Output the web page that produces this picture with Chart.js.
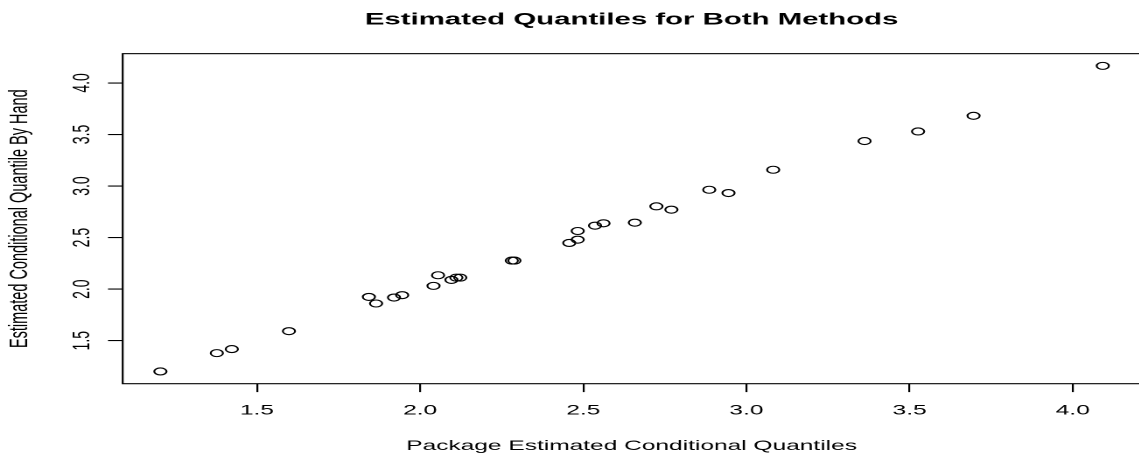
<!DOCTYPE html>
<html><head><meta charset="utf-8">
<script src="https://cdn.jsdelivr.net/npm/chart.js@4.4.1/dist/chart.umd.min.js"></script>
<style>
html,body{margin:0;padding:0;background:#fff;overflow:hidden;width:1139px;height:457px;}
#wrap{position:absolute;left:0;top:0;width:680px;height:457px;transform:scaleX(1.75);transform-origin:0 0;}
</style></head><body>
<div id="wrap"><canvas id="c"></canvas></div>
<script>
const packageQuantiles = [1.204, 1.377, 1.423, 1.598, 1.843, 1.865, 1.920, 1.945, 2.041, 2.055, 2.096, 2.111, 2.123, 2.281, 2.289, 2.457, 2.483, 2.483, 2.536, 2.562, 2.658, 2.724, 2.770, 2.886, 2.945, 3.082, 3.362, 3.526, 3.696, 4.092];
const handQuantiles    = [1.202, 1.380, 1.419, 1.593, 1.925, 1.861, 1.919, 1.942, 2.032, 2.135, 2.090, 2.112, 2.112, 2.277, 2.277, 2.448, 2.480, 2.564, 2.616, 2.639, 2.645, 2.803, 2.771, 2.964, 2.932, 3.158, 3.436, 3.529, 3.681, 4.165];
const xTickValues = [1.5, 2.0, 2.5, 3.0, 3.5, 4.0];
const yTickValues = [1.5, 2.0, 2.5, 3.0, 3.5, 4.0];
const chartTitle = 'Estimated Quantiles for Both Methods';
const xLabel = 'Package Estimated Conditional Quantiles';
const yLabel = 'Estimated Conditional Quantile By Hand';

// R-style axis range: data range extended by 4% on each side
function rRange(vals){ const lo=Math.min(...vals), hi=Math.max(...vals), d=(hi-lo)*0.04; return [lo-d, hi+d]; }
const [xMin, xMax] = rRange(packageQuantiles);
const [yMin, yMax] = rRange(handQuantiles);

const FONT = '"Liberation Sans", Arial, Helvetica, sans-serif';
const boxPlugin = { id:'rbox', afterDatasetsDraw(chart){ const {ctx, chartArea:a} = chart; ctx.save(); ctx.strokeStyle='#000'; ctx.lineWidth=1.1; ctx.strokeRect(a.left, a.top, a.right-a.left, a.bottom-a.top); ctx.restore(); } };

new Chart(document.getElementById('c'), {
  type: 'scatter',
  data: { datasets: [{
    data: packageQuantiles.map((x, i) => ({x: x, y: handQuantiles[i]})),
    pointStyle: 'circle', pointRadius: 3.5, pointHoverRadius: 3.5,
    borderColor: '#000', backgroundColor: 'rgba(0,0,0,0)', borderWidth: 1.1
  }]},
  options: {
    responsive: true, maintainAspectRatio: false, animation: false, devicePixelRatio: 2,
    events: [],
    layout: { padding: { left: 0, top: 0, bottom: 0, right: 680 - 651.7 } },
    plugins: {
      legend: { display: false }, tooltip: { enabled: false },
      title: { display: true, text: chartTitle, fullSize: false, color: '#000',
               font: { family: FONT, size: 16.8, weight: 'bold' }, padding: { top: 9.9, bottom: 23.6 } }
    },
    scales: {
      x: {
        type: 'linear', min: xMin, max: xMax,
        afterBuildTicks(s){ s.ticks = xTickValues.map(v => ({value: v})); },
        afterFit(s){ s.height = 73.3; },
        grid: { display: true, drawOnChartArea: false, drawTicks: true, tickLength: 8.4, color: '#000', lineWidth: 1.1 },
        border: { display: false },
        ticks: { padding: 10.35, color: '#000', font: { family: FONT, size: 14 }, minRotation: 0, maxRotation: 0, autoSkip: false, includeBounds: false, callback: v => Number(v).toFixed(1) },
        title: { display: true, text: xLabel, color: '#000', font: { family: FONT, size: 14 }, padding: { top: 0, bottom: 2.6 } }
      },
      y: {
        type: 'linear', min: yMin, max: yMax,
        afterBuildTicks(s){ s.ticks = yTickValues.map(v => ({value: v})); },
        afterFit(s){ s.width = 70.1; },
        grid: { display: true, drawOnChartArea: false, drawTicks: true, tickLength: 8.4, color: '#000', lineWidth: 1.1 },
        border: { display: false },
        ticks: { padding: 4.6, crossAlign: 'center', color: '#000', font: { family: FONT, size: 14 }, minRotation: 90, maxRotation: 90, autoSkip: false, includeBounds: false, callback: v => Number(v).toFixed(1) },
        title: { display: true, text: yLabel, color: '#000', font: { family: FONT, size: 14.5 }, padding: { top: 3, bottom: 0 } }
      }
    }
  },
  plugins: [boxPlugin]
});
</script>
</body></html>
